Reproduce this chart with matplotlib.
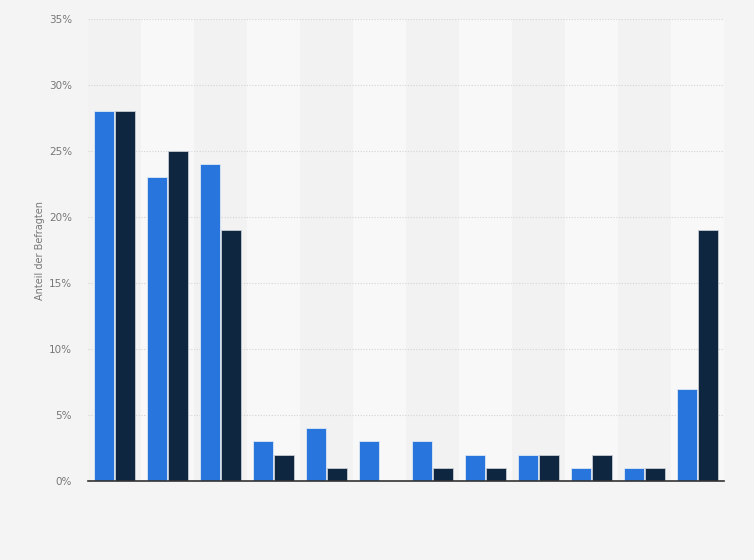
import numpy as np
import matplotlib
matplotlib.use('Agg')
import matplotlib.pyplot as plt
from matplotlib.ticker import FuncFormatter

# Werte in Prozent (Anteil der Befragten)
n_cats = 12
series_a = [28, 23, 24, 3, 4, 3, 3, 2, 2, 1, 1, 7]
series_b = [28, 25, 19, 2, 1, 0, 1, 1, 2, 2, 1, 19]
y_ticks = [0, 5, 10, 15, 20, 25, 30, 35]

BLUE = '#2876dd'
NAVY = '#0f2640'

fig = plt.figure(figsize=(7.54, 5.60), dpi=100, facecolor='#f4f4f4')
ax = fig.add_axes([88 / 754, 1 - 481 / 560, (724 - 88) / 754, (481 - 19) / 560])
ax.set_facecolor('#f2f2f2')

x = np.arange(n_cats)
for i in x:
    ax.axvspan(i - 0.5, i + 0.5, color='#f2f2f2' if i % 2 == 0 else '#f8f8f8', zorder=0, lw=0)

w = 0.38
ax.bar(x - 0.205, series_a, width=w, color=BLUE, edgecolor='#dfe8f5', linewidth=0.6, zorder=3)
ax.bar(x + 0.205, series_b, width=w, color=NAVY, edgecolor='#c8ccd2', linewidth=0.6, zorder=3)

ax.set_xlim(-0.5, n_cats - 0.5)
ax.set_ylim(0, 35)
ax.set_yticks(y_ticks)
ax.yaxis.set_major_formatter(FuncFormatter(lambda v, p: f'{int(v)}%'))
ax.yaxis.grid(True, linestyle=(0, (1, 1.5)), color='#d4d4d4', linewidth=0.8, zorder=1)
ax.set_axisbelow(True)
ax.tick_params(axis='y', length=0, pad=11.5, labelsize=7.5, labelcolor='#777777')
ax.tick_params(axis='x', length=0, labelbottom=False)
for s in ['top', 'right', 'left']:
    ax.spines[s].set_visible(False)
ax.spines['bottom'].set_color('#333333')
ax.spines['bottom'].set_linewidth(1.2)
ax.spines['bottom'].set_zorder(4)

ax.set_ylabel('Anteil der Befragten', fontsize=7, color='#777777')
ax.yaxis.set_label_coords(-(88 - 45) / 636, 0.5)

fig.savefig('out.png', dpi=100, facecolor=fig.get_facecolor())
